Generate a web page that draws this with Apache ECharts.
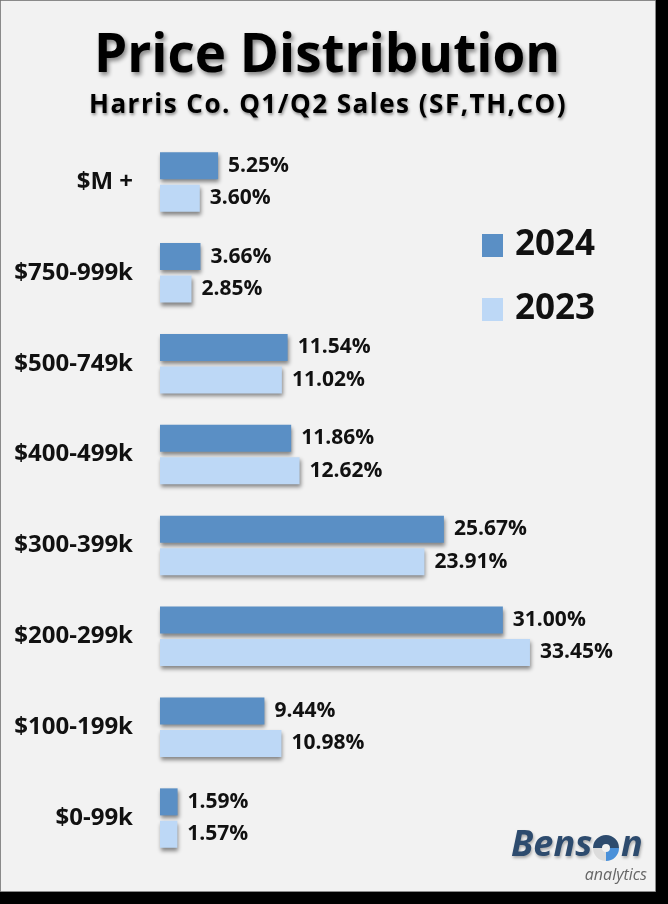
<!DOCTYPE html>
<html>
<head>
<meta charset="utf-8">
<script src="https://cdn.jsdelivr.net/npm/echarts@6/dist/echarts.min.js"></script>
<style>
html,body{margin:0;padding:0;background:#000;}
#chart{width:668px;height:904px;}
</style>
</head>
<body>
<div id="chart"></div>
<script>
const categories = ['$M +', '$750-999k', '$500-749k', '$400-499k', '$300-399k', '$200-299k', '$100-199k', '$0-99k'];
const values2024 = [5.25, 3.66, 11.54, 11.86, 25.67, 31.00, 9.44, 1.59];
const values2023 = [3.60, 2.85, 11.02, 12.62, 23.91, 33.45, 10.98, 1.57];
const seriesNames = ['2024', '2023'];
const titleText = 'Price Distribution';
const subtitleText = 'Harris Co. Q1/Q2 Sales (SF,TH,CO)';

const FONT = '"Open Sans", sans-serif';
const chart = echarts.init(document.getElementById('chart'));

const labelOpt = {
  show: true,
  position: 'right',
  distance: 10,
  fontFamily: FONT,
  fontWeight: 'bold',
  fontSize: 21,
  color: '#111',
  formatter: p => p.value.toFixed(2) + '%'
};
const shadow = {
  shadowColor: 'rgba(0,0,0,0.45)',
  shadowBlur: 4,
  shadowOffsetX: 1,
  shadowOffsetY: 3
};
const subRich = subtitleText.split('').map(ch => '{s|' + ch + '}').join('');
const logoShadow = { textShadowColor: 'rgba(0,0,0,0.3)', textShadowBlur: 3, textShadowOffsetX: 1, textShadowOffsetY: 2 };

chart.setOption({
  backgroundColor: '#000',
  animation: false,
  graphic: [
    { type: 'rect', z: -10, shape: { x: 0.5, y: 0.5, width: 655, height: 891 },
      style: { fill: '#f2f2f2', stroke: '#8a8a8a', lineWidth: 1 } },
    { type: 'text', x: 327, y: 57, z: 10,
      style: { text: titleText, fill: '#000', font: 'bold 53px "Open Sans", sans-serif',
        textAlign: 'center', textVerticalAlign: 'middle',
        textShadowColor: 'rgba(0,0,0,0.45)', textShadowBlur: 4, textShadowOffsetX: 2, textShadowOffsetY: 3 } },
    { type: 'text', x: 328, y: 106, z: 10,
      style: { text: subRich, textAlign: 'center', textVerticalAlign: 'middle',
        rich: { s: { fontFamily: FONT, fontWeight: 'bold', fontSize: 26, fill: '#000', color: '#000',
          padding: [0, 1.5, 0, 0],
          textShadowColor: 'rgba(0,0,0,0.4)', textShadowBlur: 3, textShadowOffsetX: 1, textShadowOffsetY: 2 } } } },
    // logo
    { type: 'text', x: 511, y: 846, z: 10,
      style: Object.assign({ text: 'Bens', fill: '#2d4b6e', font: 'italic bold 36px "Open Sans", sans-serif',
        textAlign: 'left', textVerticalAlign: 'middle' }, logoShadow) },
    { type: 'sector', z: 10, shape: { cx: 606, cy: 848, r: 13, r0: 4, startAngle: Math.PI, endAngle: Math.PI * 2 },
      style: { fill: '#2d4b6e' } },
    { type: 'sector', z: 10, shape: { cx: 606, cy: 848, r: 13, r0: 4, startAngle: 0, endAngle: Math.PI / 2 },
      style: { fill: '#4a90d9' } },
    { type: 'sector', z: 10, shape: { cx: 606, cy: 848, r: 13, r0: 4, startAngle: Math.PI / 2, endAngle: Math.PI },
      style: { fill: '#dcdcdc' } },
    { type: 'text', x: 621, y: 846, z: 10,
      style: Object.assign({ text: 'n', fill: '#2d4b6e', font: 'italic bold 36px "Open Sans", sans-serif',
        textAlign: 'left', textVerticalAlign: 'middle' }, logoShadow) },
    { type: 'text', x: 647, y: 875, z: 10,
      style: { text: 'analytics', fill: '#666', font: 'italic 16px "Open Sans", sans-serif',
        textAlign: 'right', textVerticalAlign: 'middle' } }
  ],
  legend: {
    orient: 'vertical',
    left: 482,
    top: 228,
    padding: 0,
    itemWidth: 21,
    itemHeight: 23,
    itemGap: 29,
    icon: 'rect',
    data: seriesNames,
    textStyle: { fontFamily: FONT, fontWeight: 'bold', fontSize: 35, color: '#111', padding: [0, 0, 0, 7] }
  },
  grid: { left: 160, top: 136.5, width: 442.4, height: 727, containLabel: false },
  xAxis: { type: 'value', min: 0, max: 40, show: false },
  yAxis: {
    type: 'category',
    data: categories,
    inverse: true,
    axisLine: { show: false },
    axisTick: { show: false },
    splitLine: { show: false },
    axisLabel: { margin: 27, fontFamily: FONT, fontWeight: 'bold', fontSize: 24, color: '#111' }
  },
  series: [
    { name: seriesNames[0], type: 'bar', data: values2024, barWidth: 27, barGap: '20%',
      itemStyle: Object.assign({ color: '#5a8fc5' }, shadow), label: labelOpt },
    { name: seriesNames[1], type: 'bar', data: values2023, barWidth: 27, barGap: '20%',
      itemStyle: Object.assign({ color: '#bdd8f6' }, shadow), label: labelOpt }
  ]
});
</script>
</body>
</html>
